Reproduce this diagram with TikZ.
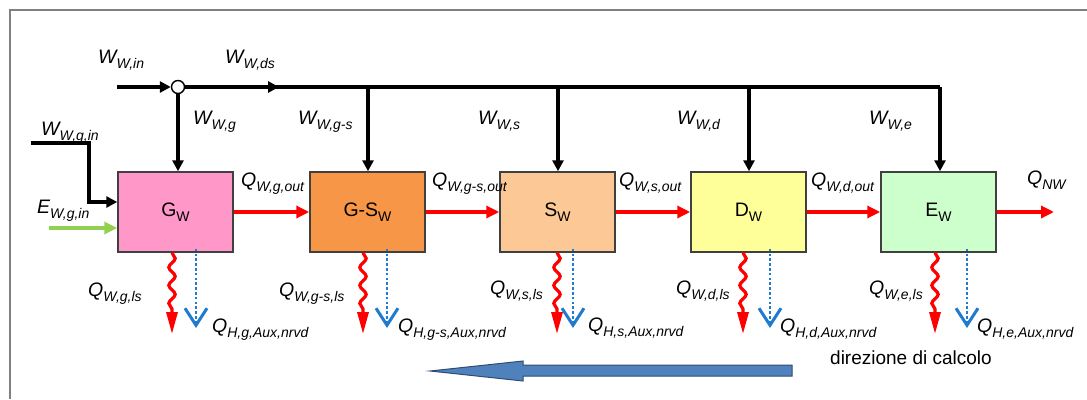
\documentclass[tikz,border=0pt]{standalone}
\usepackage{fontspec}
\setmainfont{Liberation Sans}
\usetikzlibrary{arrows.meta,decorations.pathmorphing}
\definecolor{cG}{HTML}{FF97C9}
\definecolor{cGS}{HTML}{F79646}
\definecolor{cS}{HTML}{FBC896}
\definecolor{cD}{HTML}{FFFF99}
\definecolor{cE}{HTML}{CCFFCC}
\definecolor{cBord}{HTML}{404040}
\definecolor{cGreen}{HTML}{92D050}
\definecolor{cBlue}{HTML}{1F7BD0}
\definecolor{cBig}{HTML}{4F81BD}
\definecolor{cBigB}{HTML}{2F4D70}
\definecolor{cFrame}{HTML}{808080}
\newcommand\lb[2]{{\fontsize{19.5}{19.5}\selectfont\itshape #1\raisebox{-5pt}{\fontsize{14}{14}\selectfont #2}}}
\newcommand\bl[2]{{\fontsize{19.5}{19.5}\selectfont #1\raisebox{-5pt}{\fontsize{14}{14}\selectfont #2}}}
\tikzset{
  unitbox/.style={draw=cBord, line width=1.5pt, minimum width=115pt, minimum height=80pt, inner sep=0pt},
  lab/.style={anchor=base west, inner sep=0pt},
  blk/.style={line width=3.2pt, black},
  blkarr/.style={blk, -{Triangle[length=11pt,width=11pt]}},
  redarr/.style={line width=3.4pt, red, -{Triangle[length=13pt,width=12pt]}},
  grnarr/.style={line width=3.4pt, cGreen, -{Triangle[length=13pt,width=12pt]}},
  wavy/.style={line width=3.2pt, red, decorate, decoration={snake, amplitude=3.2pt, segment length=18pt, post length=24pt}, -{Triangle[length=22pt,width=11pt]}},
  dotarr/.style={line width=2.6pt, cBlue, dash pattern=on 2.6pt off 2.2pt, -{Straight Barb[length=17pt,width=22pt,line width=3pt]}}
}
\begin{document}
\begin{tikzpicture}[x=1pt,y=-1pt]
\useasboundingbox (0,0) rectangle (1087,399);
% frame
\draw[cFrame, line width=1.6pt] (10,399) -- (10,10) -- (1087,10);

% boxes
\node[unitbox, fill=cG]  (G)  at (175.5,212) {\bl{G}{W}};
\node[unitbox, fill=cGS] (GS) at (367.5,212) {\bl{G-S}{W}};
\node[unitbox, fill=cS]  (S)  at (557.5,212) {\bl{S}{W}};
\node[unitbox, fill=cD]  (D)  at (748.5,212) {\bl{D}{W}};
\node[unitbox, fill=cE]  (E)  at (938.5,212) {\bl{E}{W}};

% top distribution line
\coordinate (win) at (117,87);
\node[circle, draw=black, fill=white, line width=1.4pt, minimum size=13pt, inner sep=0pt] (J) at (178,87) {};
\coordinate (dsA) at (223,87);
\coordinate (dsB) at (279,87);
\coordinate (cGSt) at (368,87);
\coordinate (cSt) at (558,87);
\coordinate (cDt) at (749,87);
\coordinate (cEt) at (940,87);
\draw[blkarr] (win) -- (J.west);
\draw[blk] (J.east) -- (cEt);
\draw[blkarr, line width=4.4pt] (dsA) -- (dsB);
\draw[blkarr] (J.south) -- (J.south |- G.north);
\draw[blkarr] (cGSt) -- (cGSt |- GS.north);
\draw[blkarr] (cSt) -- (cSt |- S.north);
\draw[blkarr] (cDt) -- (cDt |- D.north);
\draw[blkarr] (cEt) -- (cEt |- E.north);

% W_W,g,in and E_W,g,in
\coordinate (wgin) at (31,143);
\coordinate (wgin2) at (89,143);
\draw[blkarr] (wgin) -- (wgin2) |- ([yshift=10pt]G.west);
\coordinate (egin) at (49,228);
\draw[grnarr] (egin) -- (egin -| G.west);

% red flows
\draw[redarr] (G.east) -- (GS.west);
\draw[redarr] (GS.east) -- (S.west);
\draw[redarr] (S.east) -- (D.west);
\draw[redarr] (D.east) -- (E.west);
\coordinate (qnw) at (1054,212);
\draw[redarr] (E.east) -- (qnw);

% losses
\foreach \b/\xw/\xd in {G/172/196, GS/363/387, S/557/573, D/743/770, E/935/967}{
  \coordinate (w\b) at (\xw,334);
  \coordinate (d\b) at (\xd,328);
  \draw[wavy] (\b.south -| w\b) -- (w\b);
  \draw[dotarr] ([yshift=4pt]\b.south -| d\b) -- (d\b);
}

% labels
\node[lab] (l1) at (98,63) {\lb{W}{W,in}};
\node[lab] (l2) at (225,63) {\lb{W}{W,ds}};
\node[lab] (l3) at (193,124) {\lb{W}{W,g}};
\node[lab] (l4) at (298,124) {\lb{W}{W,g-s}};
\node[lab] (l5) at (478,124) {\lb{W}{W,s}};
\node[lab] (l6) at (677,124) {\lb{W}{W,d}};
\node[lab] (l7) at (869,124) {\lb{W}{W,e}};
\node[lab] (l8) at (41,135) {\lb{W}{W,g,in}};
\node[lab] (l9) at (37,213) {\lb{E}{W,g,in}};
\node[lab] (l10) at (241,186) {\lb{Q}{W,g,out}};
\node[lab] (l11) at (432,186) {\lb{Q}{W,g-s,out}};
\node[lab] (l12) at (619,186) {\lb{Q}{W,s,out}};
\node[lab] (l13) at (811,186) {\lb{Q}{W,d,out}};
\node[lab] (l14) at (1027,184) {\lb{Q}{NW}};
\node[lab] (l15) at (88,296) {\lb{Q}{W,g,ls}};
\node[lab] (l16) at (279,296) {\lb{Q}{W,g-s,ls}};
\node[lab] (l17) at (490,294) {\lb{Q}{W,s,ls}};
\node[lab] (l18) at (676,294) {\lb{Q}{W,d,ls}};
\node[lab] (l19) at (869,294) {\lb{Q}{W,e,ls}};
\node[lab] (l20) at (212,332) {\lb{Q}{H,g,Aux,nrvd}};
\node[lab] (l21) at (398,332) {\lb{Q}{H,g-s,Aux,nrvd}};
\node[lab] (l22) at (588,331) {\lb{Q}{H,s,Aux,nrvd}};
\node[lab] (l23) at (780,332) {\lb{Q}{H,d,Aux,nrvd}};
\node[lab] (l24) at (977,332) {\lb{Q}{H,e,Aux,nrvd}};
\node[lab] (l25) at (830,364) {\fontsize{19}{19}\selectfont direzione di calcolo};

% big direction arrow
\draw[fill=cBig, draw=cBigB, line width=1pt, line join=miter]
  (792,365) -- (523,365) -- (523,361) -- (430,371) -- (523,381) -- (523,376) -- (792,376) -- cycle;
\end{tikzpicture}
\end{document}
